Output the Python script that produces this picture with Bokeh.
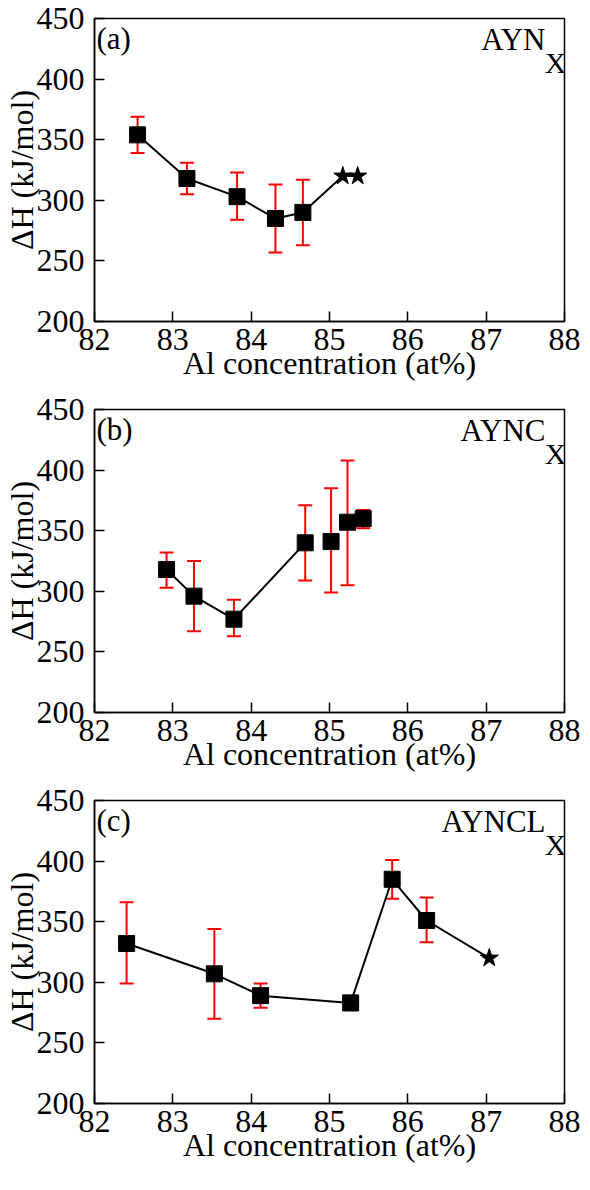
from bokeh.plotting import figure
from bokeh.models import Range1d, SingleIntervalTicker, Whisker, TeeHead, ColumnDataSource, Label
from bokeh.layouts import column
from bokeh.embed import file_html
from bokeh.resources import INLINE

FONT = "Liberation Serif"

# ---- data: panel (a) AYNx ----
a_x = [82.55, 83.18, 83.82, 84.31, 84.66]
a_y = [354, 318, 303, 285, 290]
a_hi = [369, 331, 323, 313, 317]
a_lo = [339, 305, 284, 257, 263]
a_star_x = [85.17, 85.36]
a_star_y = [320, 320]

# ---- data: panel (b) AYNCx ----
b_x = [82.92, 83.27, 83.78, 84.69, 85.02, 85.23, 85.43]
b_y = [318, 296, 277, 340, 341, 357, 360]
b_hi = [332, 325, 293, 371, 385, 408, 367]
b_lo = [303, 267, 263, 309, 299, 305, 352]
b_line_n = 4  # first four points joined

# ---- data: panel (c) AYNCLx ----
c_x = [82.41, 83.53, 84.12, 85.27, 85.80, 86.24]
c_y = [332, 307, 289, 283, 385, 351]
c_hi = [366, 344, 299, 289, 401, 370]
c_lo = [299, 270, 279, 277, 369, 333]
c_star_x = [87.04]
c_star_y = [320]

x_label = "Al concentration (at%)"
y_label = "\u0394H (kJ/mol)"


def make_panel(tag, name, x, y, lo, hi, line_x, line_y, star_x, star_y):
    p = figure(width=580, height=391, x_range=Range1d(82, 88), y_range=Range1d(200, 450),
               output_backend="svg", toolbar_location=None,
               min_border_left=94, min_border_right=16, min_border_top=18, min_border_bottom=70,
               background_fill_color="white", border_fill_color="white")
    p.xgrid.visible = False
    p.ygrid.visible = False
    p.outline_line_color = "black"
    p.outline_line_width = 1.5
    p.outline_line_alpha = 1.0

    p.xaxis.ticker = SingleIntervalTicker(interval=1, num_minor_ticks=0)
    p.yaxis.ticker = SingleIntervalTicker(interval=50, num_minor_ticks=0)
    for ax in (p.xaxis[0], p.yaxis[0]):
        ax.axis_line_color = "black"
        ax.axis_line_width = 1.5
        ax.major_tick_line_color = "black"
        ax.major_tick_line_width = 1.5
        ax.major_tick_in = 10
        ax.major_tick_out = 0
        ax.minor_tick_line_color = None
        ax.major_label_text_font = FONT
        ax.major_label_text_font_size = "32px"
        ax.major_label_text_color = "black"
        ax.axis_label_text_font = FONT
        ax.axis_label_text_font_size = "32px"
        ax.axis_label_text_font_style = "normal"
        ax.axis_label_text_color = "black"
    p.xaxis.major_label_standoff = 7
    p.yaxis.major_label_standoff = 10
    p.xaxis.axis_label = x_label
    p.yaxis.axis_label = y_label
    p.xaxis.axis_label_standoff = -8
    p.yaxis.axis_label_standoff = -6

    p.line(line_x, line_y, line_color="black", line_width=2)

    src = ColumnDataSource(dict(x=x, lo=lo, hi=hi))
    w = Whisker(base="x", lower="lo", upper="hi", source=src, line_color="red", line_width=2,
                upper_head=TeeHead(size=14, line_color="red", line_width=2),
                lower_head=TeeHead(size=14, line_color="red", line_width=2))
    p.add_layout(w)

    p.scatter(x, y, marker="square", size=16, fill_color="black", line_color="black")
    if star_x:
        p.scatter(star_x, star_y, marker="star", size=19, fill_color="black", line_color="black")

    p.add_layout(Label(x=82, y=450, text=tag, x_offset=2, y_offset=-2,
                       text_align="left", text_baseline="top",
                       text_font=FONT, text_font_size="31px", text_color="black"))
    p.add_layout(Label(x=88, y=450, text=name, x_offset=-19, y_offset=-3,
                       text_align="right", text_baseline="top",
                       text_font=FONT, text_font_size="31px", text_color="black"))
    p.add_layout(Label(x=88, y=450, text="X", x_offset=2, y_offset=-27,
                       text_align="right", text_baseline="top",
                       text_font=FONT, text_font_size="30px", text_color="black"))
    return p


pa = make_panel("(a)", "AYN", a_x, a_y, a_lo, a_hi,
                a_x + a_star_x, a_y + a_star_y, a_star_x, a_star_y)
pb = make_panel("(b)", "AYNC", b_x, b_y, b_lo, b_hi,
                b_x[:b_line_n], b_y[:b_line_n], [], [])
pc = make_panel("(c)", "AYNCL", c_x, c_y, c_lo, c_hi,
                c_x + c_star_x, c_y + c_star_y, c_star_x, c_star_y)

layout = column(pa, pb, pc)
open("out.html", "w").write(file_html(layout, INLINE))
